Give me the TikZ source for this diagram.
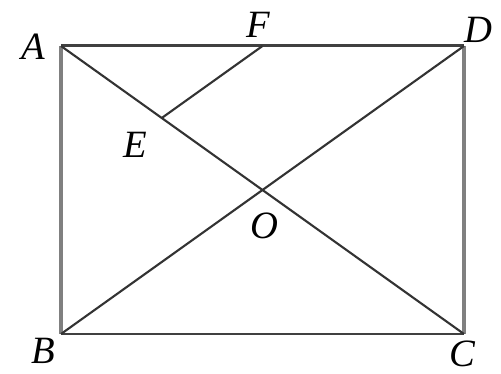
\documentclass[tikz,border=0pt]{standalone}
\usepackage{tikz}
\usepackage{fontspec}
\setmainfont{Liberation Serif}
\usetikzlibrary{calc,positioning}
\colorlet{edgeV}{black!50}
\colorlet{edgeH}{black!75}
\colorlet{diagC}{black!80}

\begin{document}
\begin{tikzpicture}[x=0.02cm, y=-0.02cm,
    vside/.style={line width=2.4pt, edgeV},
    hside/.style={line width=1.7pt, edgeH},
    diag/.style={line width=1.2pt, diagC},
    lbl/.style={font=\fontsize{22}{26}\selectfont\itshape, inner sep=1pt}]
        \useasboundingbox (0,0) rectangle (501,374);
        % Corners of the rectangle
        \coordinate (A) at (61,46);
        \coordinate (D) at (464,46);
        \coordinate (B) at (61,334);
        \coordinate (C) at (464,334);
        % Centre, midpoint of AO, midpoint of AD
        \coordinate (O) at ($(A)!0.5!(C)$);
        \coordinate (E) at ($(A)!0.5!(O)$);
        \coordinate (F) at ($(A)!0.5!(D)$);
        % Sides
        \draw[hside] (A) -- (D);
        \draw[hside] (B) -- (C);
        \draw[vside] (A) -- (B);
        \draw[vside] (D) -- (C);
        % Diagonals and EF
        \draw[diag] (A) -- (C);
        \draw[diag] (B) -- (D);
        \draw[diag] (E) -- (F);
        % Labels
        \node[lbl] (LA) at (33,47) {A};
        \node[lbl] (LB) at (43,351) {B};
        \node[lbl] (LC) at (462,354) {C};
        \node[lbl] (LD) at (478,30) {D};
        \node[lbl] (LE) at (135,145) {E};
        \node[lbl] (LF) at (258,25) {F};
        \node[lbl] (LO) at (264,226) {O};
      \end{tikzpicture}
\end{document}
